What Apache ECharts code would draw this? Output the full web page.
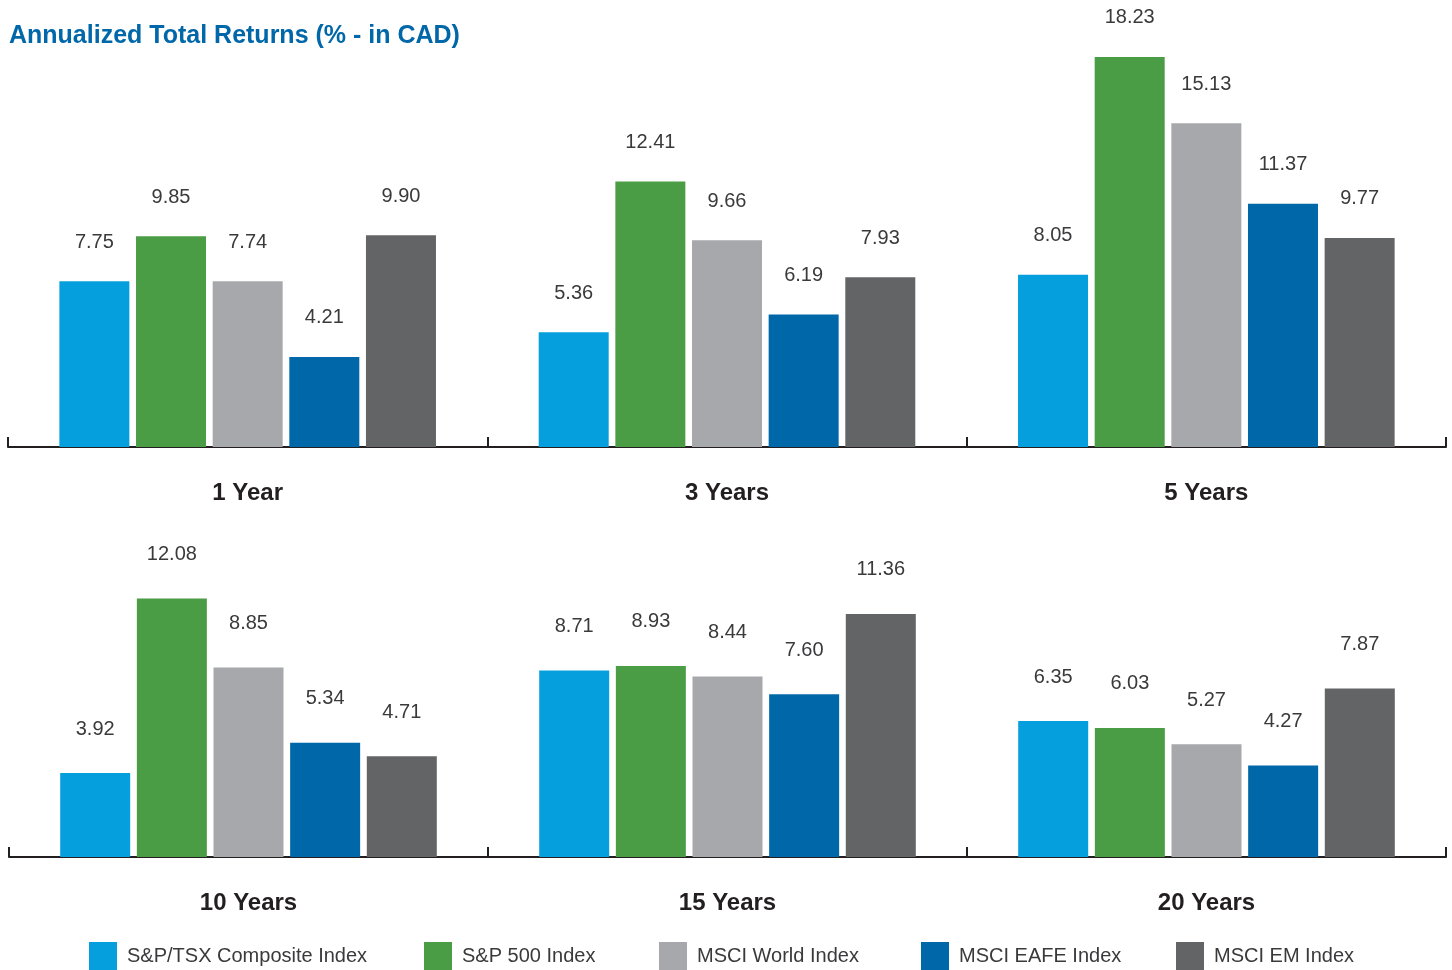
<!DOCTYPE html>
<html>
<head>
<meta charset="utf-8">
<script src="https://cdn.jsdelivr.net/npm/echarts@6/dist/echarts.min.js"></script>
<style>
  html, body { margin: 0; padding: 0; background: #fff; }
  #main { width: 1452px; height: 970px; }
</style>
</head>
<body>
<div id="main"></div>
<script>
const topPeriods = ['1 Year', '3 Years', '5 Years']
const bottomPeriods = ['10 Years', '15 Years', '20 Years']

const indexNames = ['S&P/TSX Composite Index', 'S&P 500 Index', 'MSCI World Index', 'MSCI EAFE Index', 'MSCI EM Index']
const colors = ['#069fdd', '#4a9d45', '#a7a8ab', '#0067a9', '#636466']

// values by period: 1y, 3y, 5y, 10y, 15y, 20y
const tsx = [7.75, 5.36, 8.05, 3.92, 8.71, 6.35]
const sp500 = [9.85, 12.41, 18.23, 12.08, 8.93, 6.03]
const world = [7.74, 9.66, 15.13, 8.85, 8.44, 5.27]
const eafe = [4.21, 6.19, 11.37, 5.34, 7.60, 4.27]
const em = [9.90, 7.93, 9.77, 4.71, 11.36, 7.87]

const allValues = [tsx, sp500, world, eafe, em]

const myChart = echarts.init(document.getElementById('main'))

const font = '"Liberation Sans", Arial, sans-serif'

function xAxisFor(idx, cats) {
    return {
        type: 'category',
        gridIndex: idx,
        data: cats,
        boundaryGap: true,
        axisLine: { show: true, lineStyle: { color: '#231f20', width: 2 } },
        axisTick: {
            show: true,
            inside: true,
            interval: 0,
            length: 10,
            lineStyle: { color: '#231f20', width: 2 },
        },
        axisLabel: {
            margin: 34,
            color: '#231f20',
            fontSize: 24,
            fontWeight: 'bold',
            fontFamily: font,
        },
    }
}

function yAxisFor(idx) {
    return {
        type: 'value',
        gridIndex: idx,
        min: 0,
        max: 20,
        show: false,
        splitLine: { show: false },
    }
}

const series = []
allValues.forEach((vals, i) => {
    [0, 1].forEach(g => {
        series.push({
            name: indexNames[i],
            type: 'bar',
            xAxisIndex: g,
            yAxisIndex: g,
            data: g === 0 ? vals.slice(0, 3) : vals.slice(3),
            barWidth: 70,
            barGap: '9.5%',
            itemStyle: { color: colors[i] },
            label: {
                show: true,
                position: 'top',
                distance: g === 0 ? 29 : 34,
                color: '#3a3a3c',
                fontSize: 20,
                fontFamily: font,
                formatter: p => p.value.toFixed(2),
            },
        })
    })
})

const legendLefts = [89, 424, 659, 921, 1176]
const legends = indexNames.map((n, i) => ({
    data: [n],
    left: legendLefts[i],
    top: 942,
    padding: 0,
    icon: 'rect',
    itemWidth: 28,
    itemHeight: 28,
    selectedMode: false,
    textStyle: {
        color: '#3a3a3c',
        fontSize: 20,
        fontFamily: font,
        padding: [0, 0, 0, 5],
    },
}))

const option = {
    animation: false,
    color: colors,
    title: {
        text: 'Annualized Total Returns (% - in CAD)',
        left: 4,
        top: 19,
        textStyle: {
            color: '#0067a9',
            fontSize: 25,
            fontWeight: 'bold',
            fontFamily: font,
        },
    },
    legend: legends,
    grid: [
        { left: 8, right: 6, top: 19, height: 428 },
        { left: 9, right: 6, top: 429, height: 428 },
    ],
    xAxis: [xAxisFor(0, topPeriods), xAxisFor(1, bottomPeriods)],
    yAxis: [yAxisFor(0), yAxisFor(1)],
    series: series,
}

myChart.setOption(option)
</script>
</body>
</html>
